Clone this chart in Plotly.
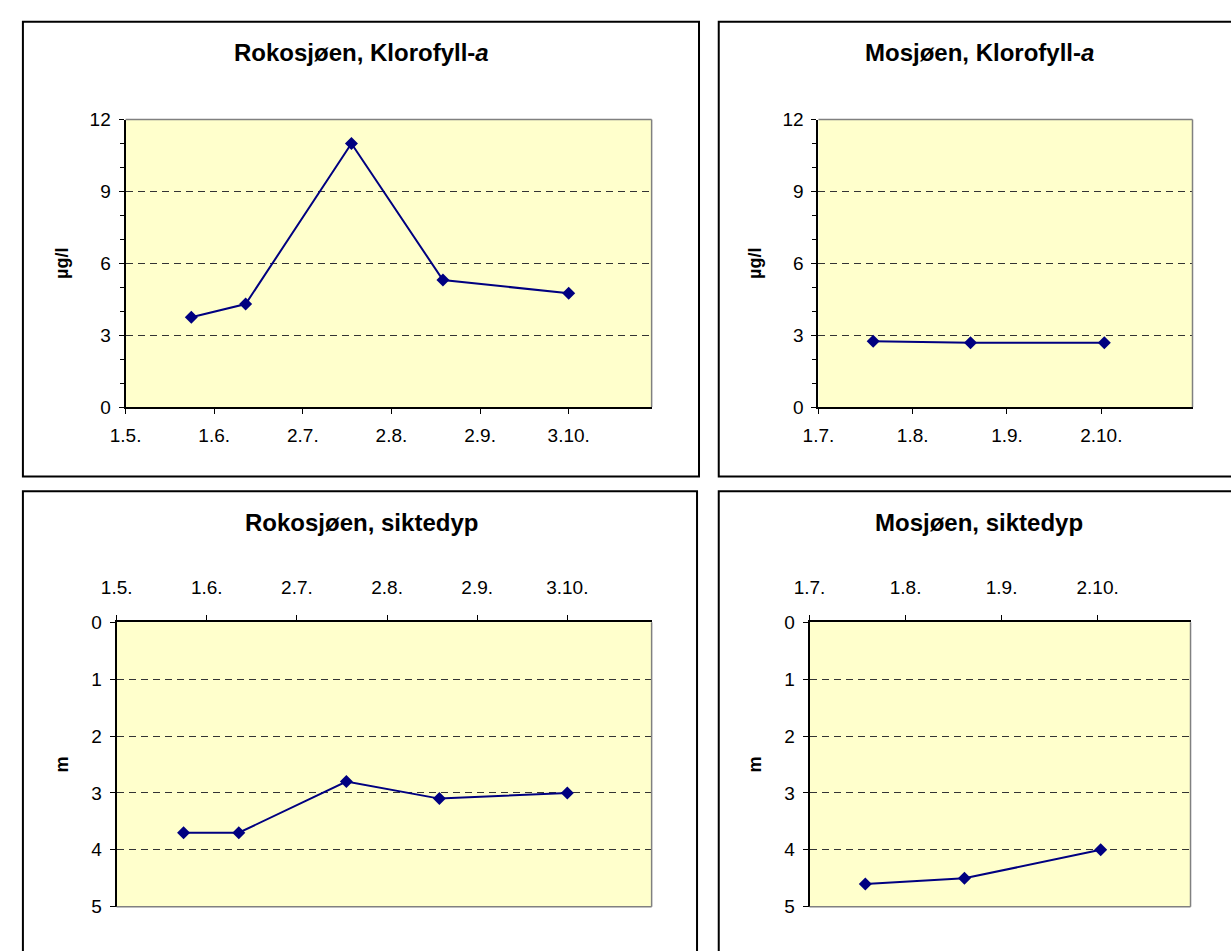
import plotly.graph_objects as go

W, H = 1231, 951

# ---------------- data ----------------
roko_dates = ["2005-05-24", "2005-06-12", "2005-07-19", "2005-08-20", "2005-10-03"]
roko_klorofyll = [3.75, 4.3, 11.0, 5.3, 4.75]
roko_siktedyp = [3.7, 3.7, 2.8, 3.1, 3.0]

mos_dates = ["2005-07-19", "2005-08-20", "2005-10-03"]
mos_klorofyll = [2.75, 2.68, 2.68]
mos_siktedyp = [4.6, 4.5, 4.0]

roko_tickvals = ["2005-05-01", "2005-06-01", "2005-07-02", "2005-08-02", "2005-09-02", "2005-10-03"]
roko_ticktext = ["1.5.", "1.6.", "2.7.", "2.8.", "2.9.", "3.10."]
mos_tickvals = ["2005-07-01", "2005-08-01", "2005-09-01", "2005-10-02"]
mos_ticktext = ["1.7.", "1.8.", "1.9.", "2.10."]
roko_range = ["2005-05-01", "2005-11-01"]
mos_range = ["2005-07-01", "2005-11-01"]

panel_titles = ["<b>Rokosjøen, Klorofyll-<i>a</i></b>", "<b>Mosjøen, Klorofyll-<i>a</i></b>",
                "<b>Rokosjøen, siktedyp</b>", "<b>Mosjøen, siktedyp</b>"]
klor_unit = "µg/l"
sikt_unit = "m"

# ---------------- style ----------------
FONT = "Liberation Sans, Arial, sans-serif"
NAVY = "#000080"
BG = "#FFFFCC"


def px(x):
    return x / W


def py(y):
    return 1 - y / H


def dx(a, b):
    return [px(a), px(b)]


def dy(top, bottom):
    return [py(bottom), py(top)]


fig = go.Figure()

series = [
    (roko_dates, roko_klorofyll, "x", "y"),
    (mos_dates, mos_klorofyll, "x2", "y2"),
    (roko_dates, roko_siktedyp, "x3", "y3"),
    (mos_dates, mos_siktedyp, "x4", "y4"),
]
for xs, ys, xa, ya in series:
    fig.add_trace(go.Scatter(
        x=xs, y=ys, xaxis=xa, yaxis=ya, mode="lines+markers",
        line=dict(color=NAVY, width=2),
        marker=dict(symbol="diamond", size=10, color=NAVY),
        showlegend=False, hoverinfo="x+y",
    ))

tickfont = dict(family=FONT, size=19, color="black")
ytitlefont = dict(family=FONT, size=18, color="black", weight="bold")


def xaxis(domain, rng, tv, tt, anchor, side):
    return dict(
        domain=domain, type="date", range=rng, tickmode="array", tickvals=tv, ticktext=tt,
        anchor=anchor, side=side, showgrid=False, zeroline=False,
        showline=True, linecolor="black", linewidth=2,
        ticks="outside", ticklen=5, tickwidth=1, tickcolor="black",
        tickfont=tickfont, ticklabelstandoff=5 if side == "bottom" else 14,
        fixedrange=True,
    )


def yaxis(domain, rng, dtick, anchor, title, minor, standoff):
    d = dict(
        domain=domain, range=rng, tick0=0, dtick=dtick, anchor=anchor,
        showgrid=True, gridcolor="#333333", gridwidth=1, griddash="7px,5px",
        zeroline=False, showline=True, linecolor="black", linewidth=2,
        ticks="outside", ticklen=5, tickwidth=1, tickcolor="black",
        tickfont=tickfont, ticklabelstandoff=4,
        title=dict(text=title, font=ytitlefont, standoff=standoff),
        fixedrange=True,
    )
    if minor:
        d["minor"] = dict(dtick=1, ticks="outside", ticklen=4, tickcolor="black", showgrid=False)
    return d


fig.update_layout(
    width=W, height=H, autosize=False,
    margin=dict(l=0, r=0, t=0, b=0),
    paper_bgcolor="white", plot_bgcolor=BG,
    font=dict(family=FONT, color="black"),
    hovermode=False,
    xaxis=xaxis(dx(111, 644), roko_range, roko_tickvals, roko_ticktext, "y", "bottom"),
    yaxis=yaxis(dy(112, 406), [0, 12], 3, "x", klor_unit, True, 16),
    xaxis2=xaxis(dx(813, 1192), mos_range, mos_tickvals, mos_ticktext, "y2", "bottom"),
    yaxis2=yaxis(dy(112, 406), [0, 12], 3, "x2", klor_unit, True, 16),
    xaxis3=xaxis(dx(102, 644), roko_range, roko_tickvals, roko_ticktext, "y3", "top"),
    yaxis3=yaxis(dy(626, 917), [5, 0], 1, "x3", sikt_unit, False, 18),
    xaxis4=xaxis(dx(804, 1190), mos_range, mos_tickvals, mos_ticktext, "y4", "top"),
    yaxis4=yaxis(dy(626, 917), [5, 0], 1, "x4", sikt_unit, False, 18),
)

# panel titles
title_pos = [(350, 43), (976, 43), (350, 524), (976, 524)]
for (cx, cy), txt in zip(title_pos, panel_titles):
    fig.add_annotation(
        x=px(cx), y=py(cy), xref="paper", yref="paper", text=txt, showarrow=False,
        xanchor="center", yanchor="middle", font=dict(family=FONT, size=24, color="black"),
    )

shapes = []
# chart borders
for (x0, y0, x1, y1) in [(7, 12, 692, 477), (712, 12, 1260, 477), (7, 492, 690, 980), (712, 492, 1260, 980)]:
    shapes.append(dict(type="rect", xref="paper", yref="paper",
                       x0=px(x0), x1=px(x1), y0=py(y1), y1=py(y0),
                       line=dict(color="black", width=2), fillcolor="rgba(0,0,0,0)", layer="above"))
# gray plot-area edges opposite to the axes
for xa, ya, top in [("x", "y", True), ("x2", "y2", True), ("x3", "y3", False), ("x4", "y4", False)]:
    yy = 1 if top else 0
    shapes.append(dict(type="line", xref=f"{xa} domain", yref=f"{ya} domain",
                       x0=0, x1=1, y0=yy, y1=yy, line=dict(color="#808080", width=1.5), layer="above"))
    shapes.append(dict(type="line", xref=f"{xa} domain", yref=f"{ya} domain",
                       x0=1, x1=1, y0=0, y1=1, line=dict(color="#808080", width=1.5), layer="above"))
fig.update_layout(shapes=shapes)

# place the figure flush with the page corner (no default body margin)
fig.write_html("out.html", config={"displayModeBar": False, "staticPlot": True},
               post_script="document.body.style.margin='0px';")
